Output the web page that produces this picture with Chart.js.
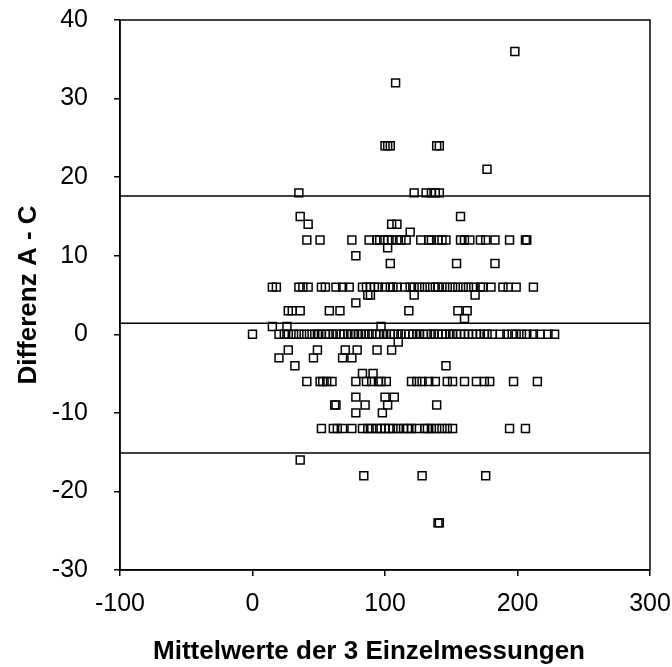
<!DOCTYPE html>
<html>
<head>
<meta charset="utf-8">
<script src="https://cdn.jsdelivr.net/npm/chart.js@4/dist/chart.umd.min.js"></script>
<style>
  html, body { margin: 0; padding: 0; background: #fff; }
  #wrap { width: 672px; height: 667px; }
</style>
</head>
<body>
<div id="wrap"><canvas id="myChart" width="672" height="667"></canvas></div>
<script>
// Bland-Altman: Mittelwert vs. Differenz A - C
// each row = one difference level, list of means at that level
var diffLevels = [36, 32, 24, 21, 18, 15, 14, 13, 12, 11, 10, 9, 6, 5, 4, 3, 2, 1, 0,
    -1, -2, -3, -4, -5, -6, -8, -9, -10, -12, -16, -18, -24];

var meansAtLevel = [
    [198],                                   // 36
    [108],                                   // 32
    [100, 102, 104, 139, 141],               // 24
    [177],                                   // 21
    [35, 122, 131, 135, 138, 141],           // 18
    [36, 157],                               // 15
    [42, 105, 109],                          // 14
    [119],                                   // 13
    [41, 51, 75, 88, 94, 96, 99, 102, 105, 109, 112, 116, 127, 133, 135, 140, 143, 146,
        157, 160, 164, 172, 176, 183, 194, 206, 207],   // 12
    [102],                                   // 11
    [78],                                    // 10
    [104, 154, 183],                         // 9
    [15, 18, 35, 38, 42, 52, 55, 63, 68, 73, 83, 86, 89, 92, 95, 100, 104, 106, 109, 115,
        119, 122, 126, 130, 134, 138, 140, 143, 147, 151, 155, 159, 163, 167, 172, 174,
        180, 189, 193, 199, 212],           // 6
    [87, 89, 122, 168],                      // 5
    [78],                                    // 4
    [27, 30, 36, 58, 66, 118, 155, 162],     // 3
    [160],                                   // 2
    [15, 26, 97],                            // 1
    [0, 20, 24, 27, 31, 35, 39, 43, 47, 50, 52, 55, 58, 61, 63, 66, 69, 72, 74, 77, 80, 82,
        85, 88, 90, 93, 96, 99, 101, 104, 107, 110, 112, 115, 118, 121, 124, 126, 129, 132,
        135, 137, 140, 143, 146, 149, 151, 154, 157, 160, 163, 166, 169, 172, 175, 177, 181,
        187, 192, 196, 199, 203, 207, 212, 217, 223, 228],   // 0
    [110],                                   // -1
    [27, 49, 70, 79, 94, 105],               // -2
    [20, 46, 68, 75],                        // -3
    [32, 146],                               // -4
    [83, 91],                                // -5
    [41, 51, 53, 56, 60, 78, 86, 90, 95, 97, 101, 120, 124, 128, 133, 138, 147, 151, 160,
        169, 175, 179, 197, 215],           // -6
    [78, 100, 107],                          // -8
    [62, 63, 85, 102, 139],                  // -9
    [78, 98],                                // -10
    [52, 61, 64, 68, 75, 83, 87, 90, 94, 97, 100, 103, 106, 110, 114, 117, 120, 124, 130,
        132, 135, 139, 143, 147, 151, 194, 206],   // -12
    [36],                                    // -16
    [84, 128, 176],                          // -18
    [140, 141]                               // -24
];

// mittlere Differenz und Grenzen (+/- 2 SD)
var limitValues = [17.6, 1.4, -15.1];

var xTicks = [-100, 0, 100, 200, 300];
var yTicks = [-30, -20, -10, 0, 10, 20, 30, 40];

var xTitle = "Mittelwerte der 3 Einzelmessungen";
var yTitle = "Differenz A - C";

// Punkte zusammenbauen
var points = [];
diffLevels.forEach(function (d, i) {
    meansAtLevel[i].forEach(function (m) {
        points.push({x: m, y: d});
    });
});

var xMin = xTicks[0], xMax = xTicks[xTicks.length - 1];

var datasets = [{
    type: "scatter",
    data: points,
    pointStyle: "rect",
    pointRadius: 5.6,
    pointBorderWidth: 1.5,
    pointBorderColor: "#000",
    pointBackgroundColor: "rgba(0,0,0,0)",
    order: 1
}];

limitValues.forEach(function (v) {
    datasets.push({
        type: "line",
        data: [{x: xMin, y: v}, {x: xMax, y: v}],
        borderColor: "#000",
        borderWidth: 1.5,
        pointRadius: 0,
        order: 2
    });
});

var fontFamily = "'Liberation Sans', Arial, sans-serif";
var tickFont = {family: fontFamily, size: 25};
var titleFont = {family: fontFamily, size: 26, weight: "bold"};

// Rahmen um die Zeichenflaeche + x-Achsentitel (etwas links von der Mitte wie im Original)
var boxPlugin = {
    id: "box",
    afterDraw: function (chart) {
        var a = chart.chartArea, c = chart.ctx;
        c.save();
        c.strokeStyle = "#000";
        c.lineWidth = 1.5;
        c.strokeRect(a.left, a.top, a.right - a.left, a.bottom - a.top);
        c.fillStyle = "#000";
        c.font = "bold " + titleFont.size + "px " + fontFamily;
        c.textAlign = "center";
        c.textBaseline = "middle";
        c.fillText(xTitle, (a.left + a.right) / 2 - 16, chart.height - 15);
        c.restore();
    }
};

function noPad(s) {
    s.paddingTop = 0;
    s.paddingBottom = 0;
    s.paddingLeft = 0;
    s.paddingRight = 0;
}

var ctx = document.getElementById("myChart").getContext("2d");
var chart = new Chart(ctx, {
    type: "scatter",
    data: {datasets: datasets},
    plugins: [boxPlugin],
    options: {
        responsive: false,
        animation: false,
        devicePixelRatio: 1,
        layout: {padding: {top: 20, right: 22, left: 0, bottom: 0}},
        plugins: {legend: {display: false}, tooltip: {enabled: false}},
        scales: {
            x: {
                type: "linear",
                min: xMin,
                max: xMax,
                afterBuildTicks: function (s) { s.ticks = xTicks.map(function (v) { return {value: v}; }); },
                afterFit: function (s) { s.height = 97; noPad(s); },
                ticks: {color: "#000", font: tickFont, padding: 13, maxRotation: 0},
                grid: {drawOnChartArea: false, drawTicks: true, tickLength: 6, color: "#000", lineWidth: 1.5},
                border: {display: true, color: "#000", width: 1.5},
                title: {display: false}
            },
            y: {
                type: "linear",
                min: yTicks[0],
                max: yTicks[yTicks.length - 1],
                afterBuildTicks: function (s) { s.ticks = yTicks.map(function (v) { return {value: v}; }); },
                afterFit: function (s) { s.width = 120; noPad(s); },
                ticks: {color: "#000", font: tickFont, padding: 26},
                grid: {drawOnChartArea: false, drawTicks: true, tickLength: 6, color: "#000", lineWidth: 1.5},
                border: {display: true, color: "#000", width: 1.5},
                title: {display: true, text: yTitle, color: "#000",
                    font: titleFont, padding: {top: 13, bottom: 0}}
            }
        }
    }
});
</script>
</body>
</html>
